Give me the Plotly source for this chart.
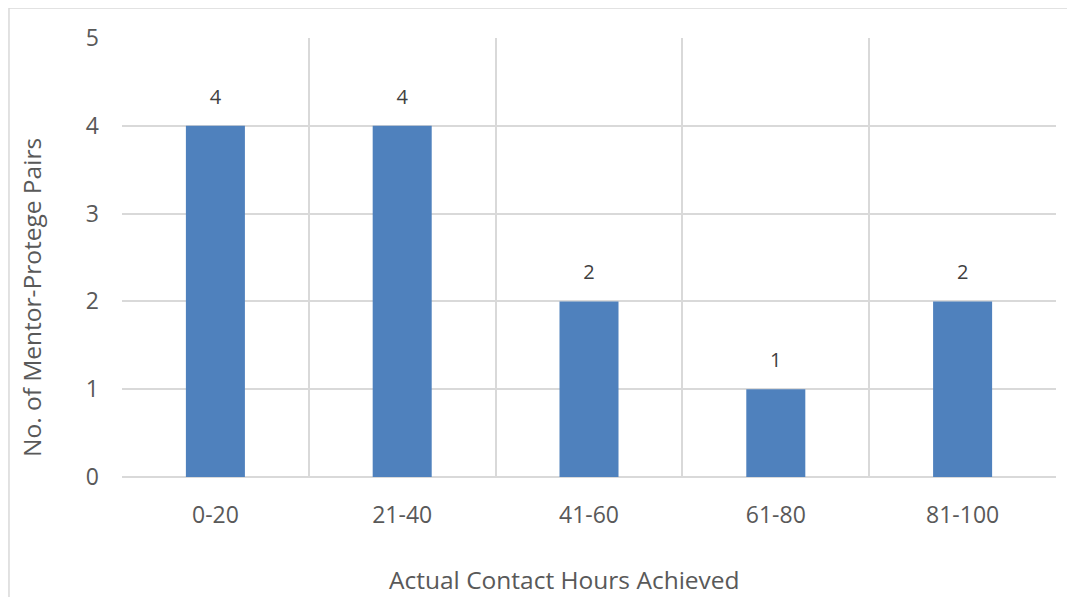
import plotly.graph_objects as go

categories = ["0-20", "21-40", "41-60", "61-80", "81-100"]
pairs = [4, 4, 2, 1, 2]
y_ticks = [0, 1, 2, 3, 4, 5]
x_title = "Actual Contact Hours Achieved"
y_title = "No. of Mentor-Protege Pairs"

TEXT = "#595959"
GRID = "#D9D9D9"
BAR = "#4F81BD"
FONT = "Open Sans"

fig = go.Figure()
fig.add_trace(go.Bar(
    x=categories, y=pairs, width=0.316,
    marker=dict(color=BAR, line=dict(width=0)),
    hoverinfo="skip",
))
fig.add_trace(go.Scatter(
    x=categories, y=pairs, mode="markers+text",
    text=[str(v) for v in pairs], textposition="top center",
    marker=dict(size=26, opacity=0),
    textfont=dict(family=FONT, size=20, color="#404040"),
    hoverinfo="skip",
))

fig.update_layout(
    width=1075, height=597,
    margin=dict(l=114, r=27, t=30, b=128),
    paper_bgcolor="white", plot_bgcolor="white",
    showlegend=False,
    font=dict(family=FONT, color=TEXT),
    xaxis=dict(
        type="category", tickson="boundaries",
        showgrid=True, gridcolor=GRID, gridwidth=1.5,
        ticks="", ticklabelstandoff=22,
        tickfont=dict(size=23, color=TEXT),
        showline=False, zeroline=False,
        range=[-0.5, 4.5],
    ),
    yaxis=dict(
        range=[0, 5], tickvals=y_ticks,
        showgrid=True, gridcolor=GRID, gridwidth=1.5,
        zeroline=True, zerolinecolor=GRID, zerolinewidth=1.5,
        ticks="", ticklabelstandoff=22,
        tickfont=dict(size=23, color=TEXT),
        showline=False,
    ),
    annotations=[
        dict(text=x_title, xref="paper", yref="paper", x=0.4743, y=-0.2346,
             xanchor="center", yanchor="middle", showarrow=False,
             font=dict(family=FONT, size=24.5, color=TEXT)),
        dict(text=y_title, xref="paper", yref="paper", x=-0.0974, y=0.4077,
             xanchor="center", yanchor="middle", showarrow=False, textangle=-90,
             font=dict(family=FONT, size=24.5, color=TEXT)),
    ],
    shapes=[dict(type="rect", xref="paper", yref="paper",
                 x0=-0.121, x1=1.05, y0=-0.6, y1=1.0683,
                 line=dict(color=GRID, width=1.5), fillcolor="rgba(0,0,0,0)",
                 layer="below")],
)

fig.write_html("out.html")
